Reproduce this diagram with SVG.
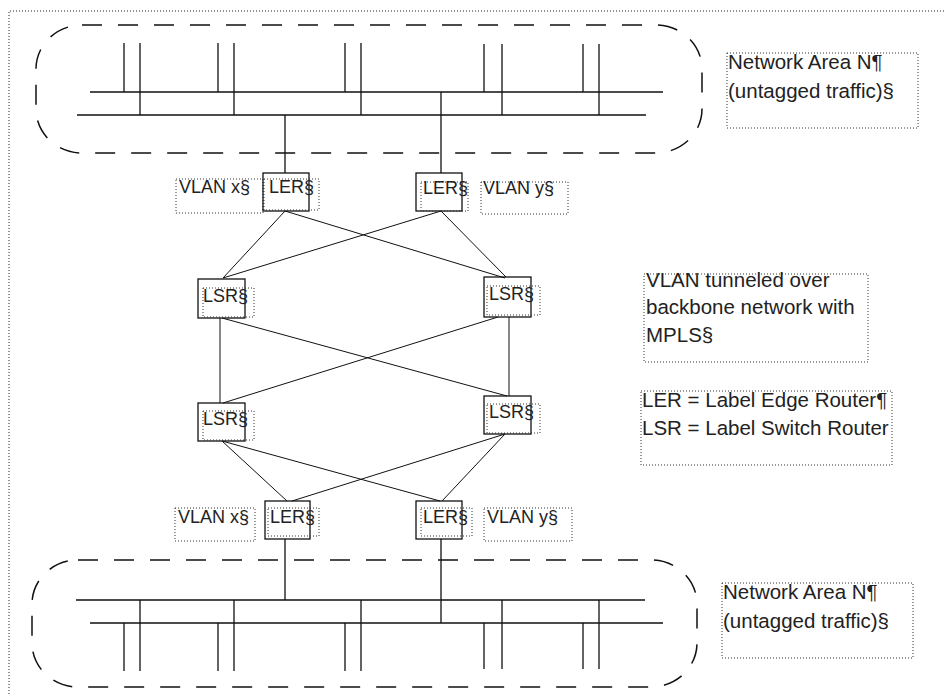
<svg xmlns="http://www.w3.org/2000/svg" width="944" height="696" viewBox="0 0 944 696">
  <style>
    .frame { fill: none; stroke: #222; stroke-width: 1; stroke-dasharray: 1 2; }
    .area { fill: none; stroke: #111; stroke-width: 1.5; stroke-dasharray: 20 16; }
    .bus { fill: none; stroke: #111; stroke-width: 1.3; }
    .box { fill: none; stroke: #111; stroke-width: 1.3; }
    .tb { fill: none; stroke: #333; stroke-width: 1; stroke-dasharray: 1 2; }
    .link { fill: none; stroke: #111; stroke-width: 1; }
    .lbl { font-family: "Liberation Sans", Arial, sans-serif; font-size: 18px; fill: #222; }
    .note { font-family: "Liberation Sans", Arial, sans-serif; font-size: 20.5px; fill: #222; }
  </style>
  <rect width="944" height="696" fill="#fff"/>

  <!-- page frame -->
  <path class="frame" d="M9 700 V11 H944"/>

  <!-- upper network area -->
  <g id="area-top">
    <rect class="area" x="36" y="25" width="666" height="128" rx="46" ry="44"/>
    <path class="bus" d="M90 92 H663 M77 115 H646
      M124 43 V92 M140 43 V115
      M218 43 V92 M234 43 V115
      M345 43 V92 M361 43 V115
      M484 44 V92 M502 44 V115
      M583 44 V92 M599 44 V115"/>
  </g>

  <!-- lower network area -->
  <g id="area-bottom">
    <rect class="area" x="32" y="560" width="665" height="127" rx="46" ry="44"/>
    <path class="bus" d="M76 600 H645 M90 623 H663
      M124 623 V671 M140 600 V671
      M218 623 V671 M234 600 V671
      M345 623 V671 M361 600 V671
      M484 623 V669 M502 600 V669
      M583 623 V669 M599 600 V669"/>
  </g>

  <!-- connectors -->
  <g id="connectors" class="link">
    <path class="bus" d="M285 115 V173 M441 92 V173"/>
    <path class="bus" d="M285 539 V600 M441 539 V623"/>
    <line x1="285" y1="211" x2="223" y2="278"/>
    <line x1="285" y1="211" x2="505" y2="278"/>
    <line x1="441" y1="211" x2="223" y2="278"/>
    <line x1="441" y1="211" x2="506" y2="277"/>
    <line x1="220" y1="318" x2="220" y2="403"/>
    <line x1="509" y1="317" x2="509" y2="396"/>
    <line x1="222" y1="318" x2="507" y2="396"/>
    <line x1="498" y1="317" x2="223" y2="403"/>
    <line x1="222" y1="441" x2="287" y2="501"/>
    <line x1="222" y1="441" x2="440" y2="501"/>
    <line x1="505" y1="434" x2="292" y2="501"/>
    <line x1="505" y1="434" x2="442" y2="501"/>
  </g>

  <!-- edge routers, top -->
  <g id="vlan-x-top">
    <rect class="tb" x="176" y="179" width="87" height="34"/>
    <text class="lbl" x="179" y="193">VLAN x§</text>
  </g>
  <g id="ler-top-left">
    <rect class="box" x="263" y="173" width="46" height="38"/>
    <rect class="tb" x="264" y="179" width="55" height="31"/>
    <text class="lbl" x="269" y="193">LER§</text>
  </g>
  <g id="ler-top-right">
    <rect class="box" x="416" y="173" width="46" height="38"/>
    <rect class="tb" x="421" y="182" width="47" height="29"/>
    <text class="lbl" x="423" y="194">LER§</text>
  </g>
  <g id="vlan-y-top">
    <rect class="tb" x="481" y="182" width="87" height="32"/>
    <text class="lbl" x="483" y="194">VLAN y§</text>
  </g>

  <!-- switch routers -->
  <g id="lsr-top-left">
    <rect class="box" x="198" y="279" width="47" height="39"/>
    <rect class="tb" x="203" y="288" width="51" height="29"/>
    <text class="lbl" x="203" y="302">LSR§</text>
  </g>
  <g id="lsr-top-right">
    <rect class="box" x="484" y="277" width="47" height="40"/>
    <rect class="tb" x="487" y="286" width="53" height="29"/>
    <text class="lbl" x="489" y="300">LSR§</text>
  </g>
  <g id="lsr-bottom-left">
    <rect class="box" x="198" y="403" width="47" height="38"/>
    <rect class="tb" x="203" y="411" width="51" height="29"/>
    <text class="lbl" x="203" y="425">LSR§</text>
  </g>
  <g id="lsr-bottom-right">
    <rect class="box" x="484" y="396" width="47" height="38"/>
    <rect class="tb" x="487" y="404" width="53" height="29"/>
    <text class="lbl" x="489" y="418">LSR§</text>
  </g>

  <!-- edge routers, bottom -->
  <g id="vlan-x-bottom">
    <rect class="tb" x="175" y="508" width="80" height="33"/>
    <text class="lbl" x="178" y="523">VLAN x§</text>
  </g>
  <g id="ler-bottom-left">
    <rect class="box" x="265" y="501" width="45" height="38"/>
    <rect class="tb" x="268" y="508" width="51" height="28"/>
    <text class="lbl" x="270" y="523">LER§</text>
  </g>
  <g id="ler-bottom-right">
    <rect class="box" x="416" y="501" width="46" height="38"/>
    <rect class="tb" x="421" y="508" width="51" height="28"/>
    <text class="lbl" x="423" y="523">LER§</text>
  </g>
  <g id="vlan-y-bottom">
    <rect class="tb" x="484" y="508" width="88" height="33"/>
    <text class="lbl" x="487" y="523">VLAN y§</text>
  </g>

  <!-- side notes -->
  <g id="note-area-top">
    <rect class="tb" x="727" y="53" width="191" height="75"/>
    <text class="note" x="728" y="69">Network Area N¶</text>
    <text class="note" x="728" y="98">(untagged traffic)§</text>
  </g>
  <g id="note-tunnel">
    <rect class="tb" x="644" y="274" width="224" height="88"/>
    <text class="note" x="646" y="287">VLAN tunneled over</text>
    <text class="note" x="646" y="314">backbone network with</text>
    <text class="note" x="646" y="342">MPLS§</text>
  </g>
  <g id="note-legend">
    <rect class="tb" x="641" y="391" width="251" height="74"/>
    <text class="note" x="642" y="407">LER = Label Edge Router¶</text>
    <text class="note" x="642" y="435">LSR = Label Switch Router</text>
  </g>
  <g id="note-area-bottom">
    <rect class="tb" x="722" y="583" width="191" height="75"/>
    <text class="note" x="723" y="599">Network Area N¶</text>
    <text class="note" x="723" y="628">(untagged traffic)§</text>
  </g>
</svg>
